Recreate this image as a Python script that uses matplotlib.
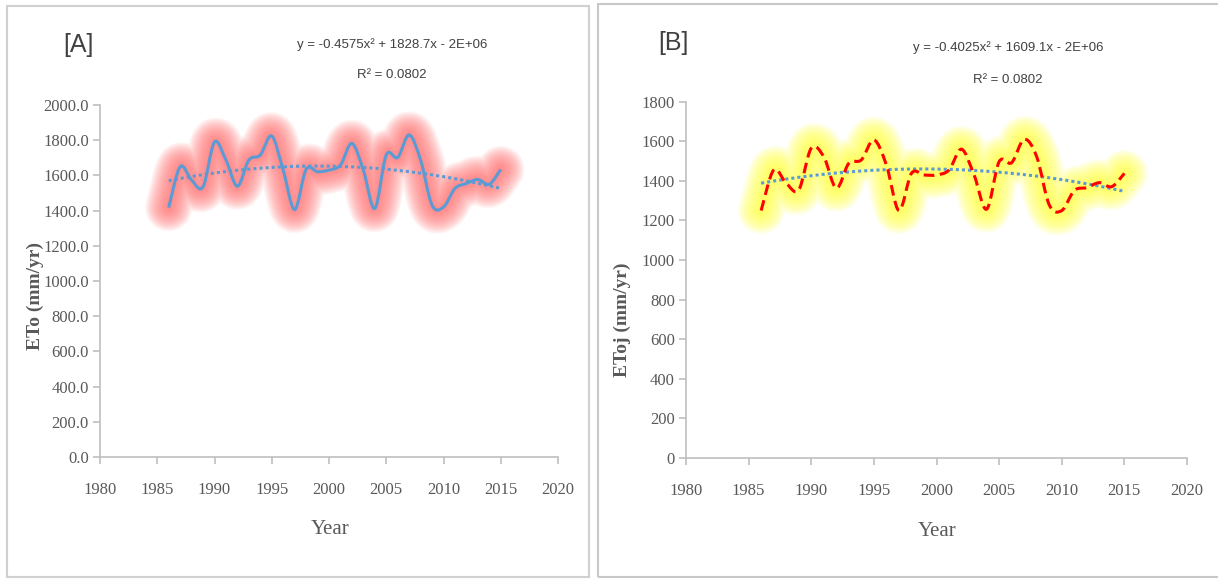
import numpy as np
import matplotlib
matplotlib.use('Agg')
import matplotlib.pyplot as plt
from matplotlib.path import Path
from matplotlib.patches import PathPatch, Rectangle

# Annual values
years = list(range(1986, 2016))
eto = [1417, 1649, 1573, 1535, 1790, 1687, 1539, 1687, 1716, 1824,
       1630, 1406, 1634, 1621, 1630, 1659, 1782, 1630, 1412, 1716,
       1702, 1830, 1687, 1431, 1420, 1526, 1554, 1577, 1550, 1634]
etoj = [1250, 1455, 1388, 1354, 1565, 1522, 1363, 1489, 1506, 1607,
        1480, 1250, 1438, 1430, 1430, 1455, 1560, 1430, 1257, 1497,
        1492, 1610, 1522, 1279, 1250, 1351, 1366, 1391, 1371, 1438]

x_ticks = [1980, 1985, 1990, 1995, 2000, 2005, 2010, 2015, 2020]
eq_a = 'y = -0.4575x\u00b2 + 1828.7x - 2E+06'
eq_b = 'y = -0.4025x\u00b2 + 1609.1x - 2E+06'
r2_text = 'R\u00b2 = 0.0802'

serif = ['Liberation Serif', 'DejaVu Serif']
narrow = ['Liberation Sans Narrow', 'Liberation Sans', 'DejaVu Sans']
tick_grey = '#595959'
axis_grey = '#BFBFBF'


def smooth_path(xs, ys):
    # Excel-like smoothed line: Catmull-Rom segments as cubic Bezier curves
    pts = np.column_stack([xs, ys]).astype(float)
    n = len(pts)
    verts = [pts[0]]
    codes = [Path.MOVETO]
    for i in range(n - 1):
        p0 = pts[max(i - 1, 0)]
        p1 = pts[i]
        p2 = pts[i + 1]
        p3 = pts[min(i + 2, n - 1)]
        verts += [p1 + (p2 - p0) / 6, p2 - (p3 - p1) / 6, p2]
        codes += [Path.CURVE4] * 3
    return Path(verts, codes)


def draw_panel(ax, vals, ymax, fmt, glow, glow_alpha, line_color, line_style):
    ax.set_xlim(1980, 2020)
    ax.set_ylim(0, ymax)
    path = smooth_path(years, vals)
    # soft glow around the series
    for w in np.linspace(34, 4, 18):
        ax.add_patch(PathPatch(path, fill=False, edgecolor=glow, lw=w,
                               alpha=glow_alpha, capstyle='round',
                               joinstyle='round', zorder=2))
    ax.add_patch(PathPatch(path, fill=False, edgecolor=line_color, lw=2.2,
                           linestyle=line_style, capstyle='butt', zorder=4))
    # 2nd order polynomial trendline
    coef = np.polyfit(years, vals, 2)
    ax.plot(years, np.polyval(coef, years), color='#5B9BD5', lw=2.2,
            linestyle=(0, (1, 1)), zorder=3)

    ax.set_xticks(x_ticks)
    ax.set_yticks(np.arange(0, ymax + 1, 200))
    ax.set_yticklabels([fmt.format(v) for v in np.arange(0, ymax + 1, 200)])
    for s in ['top', 'right']:
        ax.spines[s].set_visible(False)
    for s in ['left', 'bottom']:
        ax.spines[s].set_color(axis_grey)
        ax.spines[s].set_linewidth(1.2)
    ax.tick_params(colors=axis_grey, length=5, width=1.2, labelcolor=tick_grey,
                   labelsize=12, pad=3)
    ax.tick_params(axis='x', pad=13)
    for lab in ax.get_xticklabels() + ax.get_yticklabels():
        lab.set_family(serif)
    ax.set_facecolor('none')


fig = plt.figure(figsize=(12.18, 5.79), dpi=100)
W, H = 1218.0, 579.0

# panel frames
fig.patches.append(Rectangle((7 / W, 1 - 577 / H), (589 - 7) / W, (577 - 6) / H,
                             transform=fig.transFigure, fill=False,
                             edgecolor='#D0D0D0', lw=1.5))
fig.patches.append(Rectangle((598 / W, 1 - 577 / H), (1230 - 598) / W, (577 - 4) / H,
                             transform=fig.transFigure, fill=False,
                             edgecolor='#C8C8C8', lw=1.5))

ax1 = fig.add_axes([100 / W, 1 - 457 / H, 458 / W, (457 - 105) / H])
draw_panel(ax1, eto, 2000, '{:.1f}', '#FF7070', 0.075, '#5B9BD5', '-')

ax2 = fig.add_axes([686 / W, 1 - 458 / H, 501 / W, (458 - 101.7) / H])
draw_panel(ax2, etoj, 1800, '{:.0f}', '#FFFF40', 0.075, '#FF0000', (0, (3.5, 1.8)))

# labels
fig.text(35 / W, 1 - 296 / H, 'ETo (mm/yr)', rotation=90, ha='center', va='center',
         family=serif, fontsize=14, fontweight='bold', color=tick_grey)
fig.text(622 / W, 1 - 320 / H, 'EToj (mm/yr)', rotation=90, ha='center', va='center',
         family=serif, fontsize=14, fontweight='bold', color=tick_grey)
fig.text(330 / W, 1 - 529 / H, 'Year', ha='center', va='center', family=serif,
         fontsize=15, color=tick_grey)
fig.text(937 / W, 1 - 531 / H, 'Year', ha='center', va='center', family=serif,
         fontsize=15, color=tick_grey)

fig.text(78 / W, 1 - 45 / H, '[A]', ha='center', va='center', family=narrow,
         fontsize=18, color='#404040')
fig.text(673 / W, 1 - 43 / H, '[B]', ha='center', va='center', family=narrow,
         fontsize=18, color='#404040')
fig.text(392 / W, 1 - 45 / H, eq_a, ha='center', va='center', family=narrow,
         fontsize=9.5, color='#404040')
fig.text(392 / W, 1 - 75 / H, r2_text, ha='center', va='center', family=narrow,
         fontsize=9.5, color='#404040')
fig.text(1008 / W, 1 - 48 / H, eq_b, ha='center', va='center', family=narrow,
         fontsize=9.5, color='#404040')
fig.text(1008 / W, 1 - 80 / H, r2_text, ha='center', va='center', family=narrow,
         fontsize=9.5, color='#404040')

fig.savefig('out.png', dpi=100)
